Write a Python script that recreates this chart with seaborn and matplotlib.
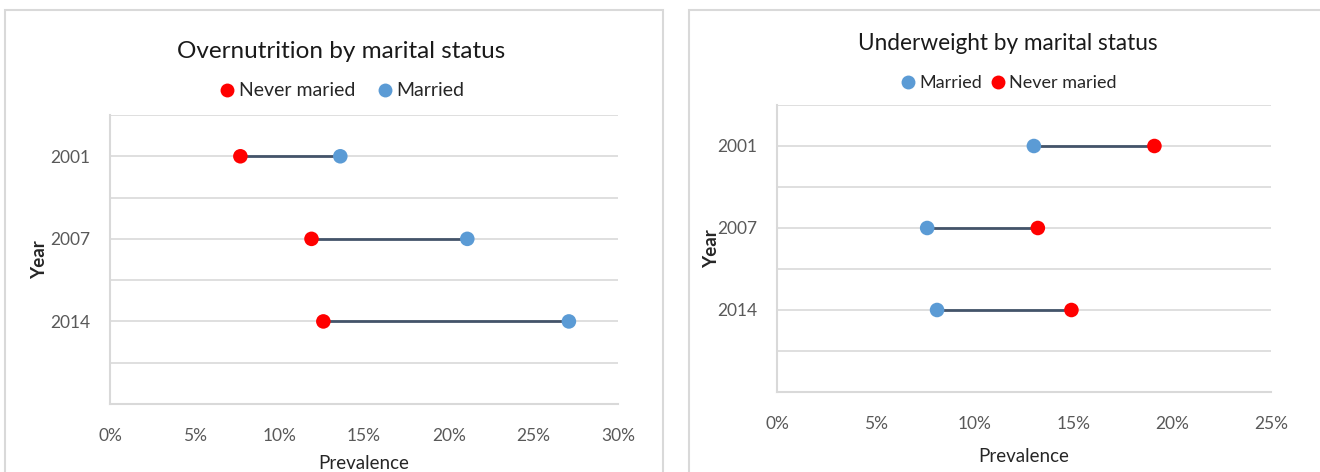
import matplotlib
matplotlib.use("Agg")
import matplotlib.pyplot as plt
from matplotlib.patches import Rectangle
from matplotlib.lines import Line2D
from matplotlib.ticker import FuncFormatter, MultipleLocator
import numpy as np
import pandas as pd
import seaborn as sns

# ---- data (prevalence, %) ----
years = ["2001", "2007", "2014"]

over_never_married = [7.7, 11.9, 12.6]
over_married = [13.6, 21.1, 27.1]

under_married = [13.0, 7.6, 8.1]
under_never_married = [19.1, 13.2, 14.9]

RED = "#ff0000"
BLUE = "#5b9bd5"
LINE = "#44546a"
GRID = "#d9d9d9"
TICK = "#595959"

sns.set_theme(style="white")
plt.rcParams["font.family"] = ["Lato", "DejaVu Sans"]

W, H = 1320, 472
fig = plt.figure(figsize=(W / 100, H / 100), dpi=100)
fig.patch.set_facecolor("white")


def px_axes(left, top, right, bottom):
    return fig.add_axes([left / W, 1 - bottom / H, (right - left) / W, (bottom - top) / H])


# panel frames
for x0, x1 in [(5, 663), (689, 1330)]:
    fig.patches.append(Rectangle((x0 / W, -0.1), (x1 - x0) / W, (H - 10) / H + 0.1,
                                 transform=fig.transFigure, fill=False,
                                 edgecolor=GRID, linewidth=1.5, zorder=0))


def dumbbell(ax, first, second, first_name, second_name, first_color, second_color,
             xmax, title, title_y, legend_y, center_x, title_size, legend_size, col_gap):
    ypos = np.arange(len(years))
    ax.hlines(ypos, first, second, color=LINE, linewidth=2, zorder=2)
    df = pd.DataFrame({
        "year": np.concatenate([ypos, ypos]),
        "value": first + second,
        "group": [first_name] * len(years) + [second_name] * len(years),
    })
    sns.scatterplot(data=df, x="value", y="year", hue="group",
                    palette={first_name: first_color, second_name: second_color},
                    s=110, linewidth=0, legend=False, zorder=3, ax=ax)
    ax.set_xlim(0, xmax)
    ax.set_ylim(3.0, -0.5)
    ax.set_yticks(ypos)
    ax.set_yticklabels(years)
    ax.yaxis.set_minor_locator(MultipleLocator(0.5))
    ax.grid(True, axis="y", which="both", color=GRID, linewidth=1.2)
    ax.grid(False, axis="x")
    ax.set_xticks(np.arange(0, xmax + 0.1, 5))
    ax.xaxis.set_major_formatter(FuncFormatter(lambda v, _: f"{v:.0f}%"))
    ax.tick_params(axis="both", which="both", length=0, labelsize=12.5, labelcolor=TICK)
    ax.tick_params(axis="x", pad=17)
    ax.tick_params(axis="y", pad=14)
    for side in ["top", "right"]:
        ax.spines[side].set_visible(False)
    for side in ["left", "bottom"]:
        ax.spines[side].set_color(GRID)
        ax.spines[side].set_linewidth(1.5)
    ax.set_xlabel("Prevalence", fontsize=13.5, color="#262626")
    ax.set_ylabel("Year", fontsize=13.5, color="#262626", fontweight="bold")
    fig.text(center_x / W, 1 - title_y / H, title, ha="center", va="center",
             fontsize=title_size, color="#1a1a1a")
    handles = [Line2D([], [], linestyle="none", marker="o", markersize=10,
                      markerfacecolor=c, markeredgewidth=0) for c in (first_color, second_color)]
    fig.legend(handles, [first_name, second_name], loc="center",
               bbox_to_anchor=(center_x / W, 1 - legend_y / H), ncol=2, frameon=False,
               fontsize=legend_size, handletextpad=0.1, columnspacing=col_gap,
               handlelength=1.0)


ax1 = px_axes(110, 115, 618, 404)
dumbbell(ax1, over_never_married, over_married, "Never maried", "Married", RED, BLUE,
         30, "Overnutrition by marital status", 52, 91, 341, 17.5, 14, 1.0)
ax1.xaxis.labelpad = 8
ax1.yaxis.labelpad = 2

ax2 = px_axes(777, 105, 1271, 392)
dumbbell(ax2, under_married, under_never_married, "Married", "Never maried", BLUE, RED,
         25, "Underweight by marital status", 43, 83, 1008, 16.3, 13, 0.4)
ax2.xaxis.labelpad = 12
ax2.yaxis.labelpad = -2

fig.savefig("out.png", dpi=100, facecolor="white")
